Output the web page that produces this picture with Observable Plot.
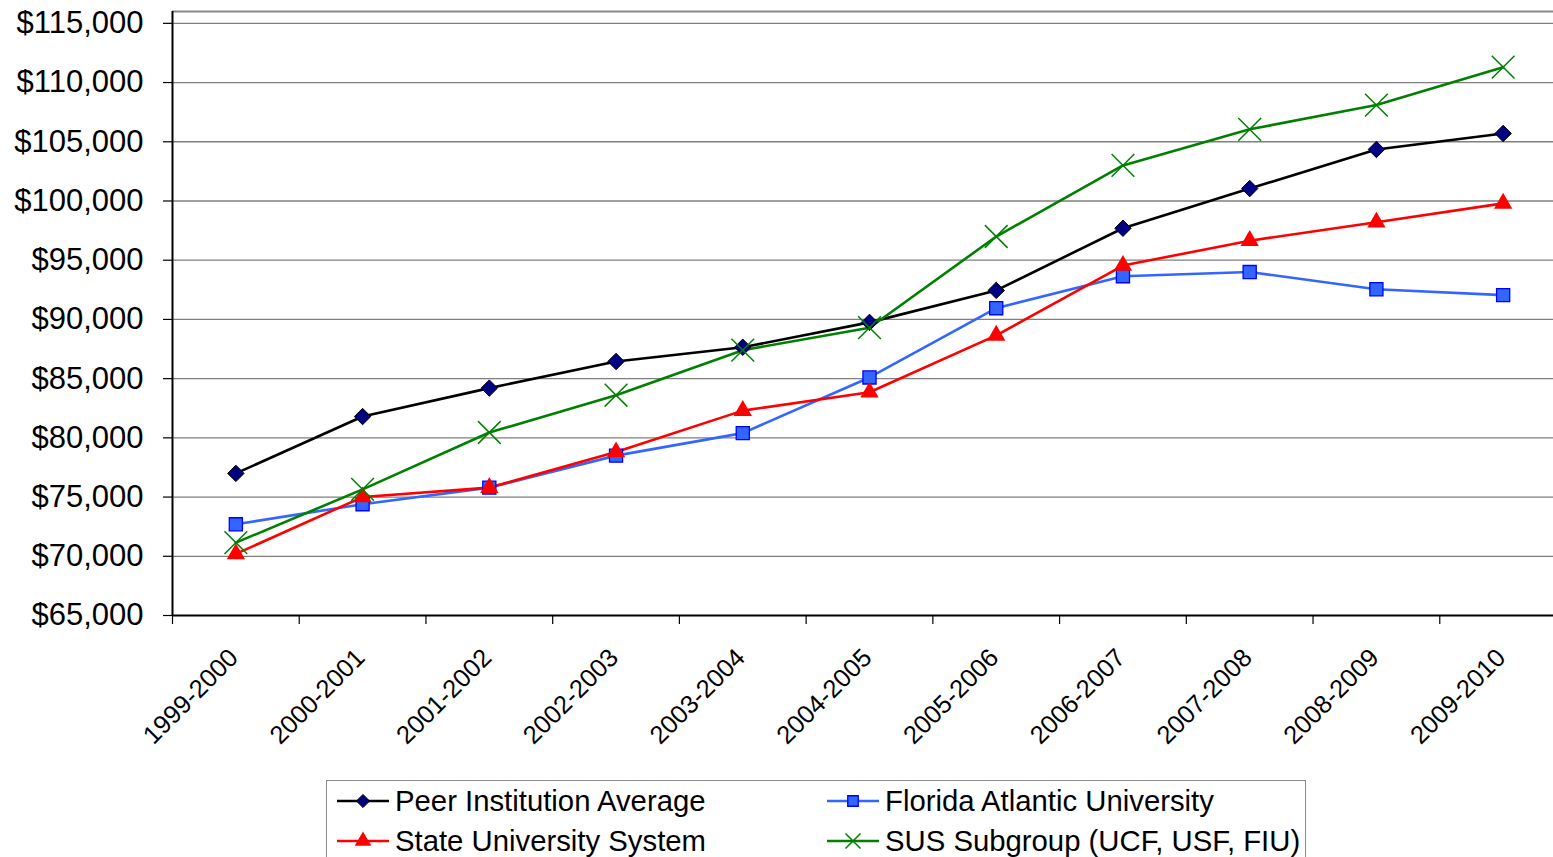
<!DOCTYPE html>
<html>
<head>
<meta charset="utf-8">
<script src="https://cdn.jsdelivr.net/npm/d3@7"></script>
<script src="https://cdn.jsdelivr.net/npm/@observablehq/plot@0.6"></script>
<style>
  html, body { margin: 0; padding: 0; background: #fff; }
  body { width: 1553px; height: 857px; overflow: hidden; position: relative; font-family: "Liberation Sans", Arial, sans-serif; }
  #chart svg { display: block; }
  #legend {
    position: absolute; left: 326px; top: 780px; width: 980px; height: 100px;
    border: 1px solid #8c8c8c; background: #fff;
    display: grid; grid-template-columns: 490px 490px; grid-auto-rows: 40px;
    padding-left: 9px; box-sizing: border-box;
  }
  .item { display: flex; align-items: center; font-size: 29.3px; color: #000; white-space: nowrap; }
  .item svg { flex: none; margin-right: 5px; }
</style>
</head>
<body>
<div id="chart"></div>
<div id="legend"></div>
<script>
// ---- Data ----
const years = ["1999-2000","2000-2001","2001-2002","2002-2003","2003-2004","2004-2005","2005-2006","2006-2007","2007-2008","2008-2009","2009-2010"];
const peerAverage = [77000, 81800, 84200, 86450, 87650, 89750, 92450, 97700, 101050, 104350, 105700];
const floridaAtlantic = [72700, 74400, 75800, 78500, 80400, 85100, 90950, 93650, 94000, 92550, 92050];
const stateSystem = [70200, 75000, 75800, 78800, 82300, 83850, 88650, 94550, 96650, 98200, 99800];
const susSubgroup = [71150, 75650, 80450, 83600, 87400, 89300, 97000, 103000, 106050, 108100, 111300];
const yTicks = [65000, 70000, 75000, 80000, 85000, 90000, 95000, 100000, 105000, 110000, 115000];

const seriesNames = ["Peer Institution Average", "Florida Atlantic University", "State University System", "SUS Subgroup (UCF, USF, FIU)"];
const seriesValues = [peerAverage, floridaAtlantic, stateSystem, susSubgroup];
const seriesStyle = [
  {line: "#000000", symbol: "diamond2", fill: "#000080", stroke: "#000000", r: 7.4, sw: 1},
  {line: "#3366FF", symbol: "square", fill: "#3366FF", stroke: "#0000FF", r: 7.4, sw: 1.3},
  {line: "#FF0000", symbol: "triangle", fill: "#FF0000", stroke: "none", r: 6.8, sw: 0},
  {line: "#008000", symbol: "times", fill: "none", stroke: "#008000", r: 10.4, sw: 1.5}
];

const rows = seriesNames.flatMap((name, s) =>
  years.map((year, i) => ({series: name, year, value: seriesValues[s][i]})));

const xLeft = 172, xRight = 1566;
const bw = (xRight - xLeft) / years.length;

const marks = [
  // horizontal gridlines
  Plot.ruleY(yTicks.slice(1), {stroke: "#7f7f7f", strokeWidth: 1.3}),
  // top border of plot area
  Plot.ruleY([116000], {stroke: "#8a8a8a", strokeWidth: 2}),
  // y axis (ticks + labels)
  Plot.axisY(yTicks, {anchor: "left", label: null, tickSize: 9, tickPadding: 20, fontSize: 31,
    tickFormat: d3.format("$,"), stroke: "#000", strokeWidth: 1.2, fill: "#000"}),
  // x category boundary ticks
  Plot.ruleX(years, {x: d => d, y1: 65000, y2: 65000, dx: -bw / 2, insetTop: 0, insetBottom: -9, stroke: "#000", strokeWidth: 1.2}),
  // x labels
  Plot.text(years, {x: d => d, y: 65000, dx: -2, dy: 38, rotate: -45, textAnchor: "end", fontSize: 25.5, fill: "#000"}),
];

seriesNames.forEach((name, s) => {
  const st = seriesStyle[s];
  const data = rows.filter(d => d.series === name);
  marks.push(Plot.line(data, {x: "year", y: "value", stroke: st.line, strokeWidth: 2.6}));
});
// axis lines
marks.push(Plot.ruleY([65000], {stroke: "#000", strokeWidth: 2}));
marks.push(Plot.ruleX([years[0]], {dx: -bw / 2, stroke: "#000", strokeWidth: 2}));
seriesNames.forEach((name, s) => {
  const st = seriesStyle[s];
  const data = rows.filter(d => d.series === name);
  marks.push(Plot.dot(data, {x: "year", y: "value", symbol: st.symbol, r: st.r,
    fill: st.fill, stroke: st.stroke, strokeWidth: st.sw}));
});

const chart = Plot.plot({
  width: 1553, height: 770,
  marginLeft: xLeft, marginRight: 0, marginTop: 11, marginBottom: 155,
  x: {type: "band", domain: years, range: [xLeft, xRight], padding: 0, round: false, axis: null},
  y: {domain: [65000, 116000], axis: null},
  style: {fontFamily: '"Liberation Sans", Arial, sans-serif', background: "#fff", color: "#000", overflow: "visible"},
  marks
});
document.getElementById("chart").appendChild(chart);

// ---- Legend ----
const symMap = {diamond2: d3.symbolDiamond2, square: d3.symbolSquare, triangle: d3.symbolTriangle, times: d3.symbolTimes};
const legendSizes = {diamond2: 110, square: 110, triangle: 120, times: 150};
const legend = d3.select("#legend");
[0, 1, 2, 3].forEach(s => {
  const st = seriesStyle[s];
  const item = legend.append("div").attr("class", "item");
  const svg = item.append("svg").attr("width", 54).attr("height", 24);
  svg.append("line").attr("x1", 1).attr("x2", 53).attr("y1", 12).attr("y2", 12)
    .attr("stroke", st.line).attr("stroke-width", 2.6);
  svg.append("path").attr("transform", "translate(27,12)")
    .attr("d", d3.symbol(symMap[st.symbol], legendSizes[st.symbol])())
    .attr("fill", st.fill).attr("stroke", st.stroke).attr("stroke-width", st.sw);
  item.append("span").text(seriesNames[s]);
});
</script>
</body>
</html>
